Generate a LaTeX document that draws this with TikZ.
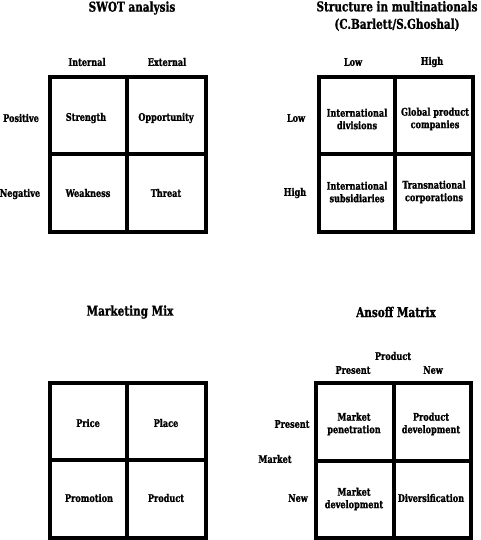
\documentclass[tikz,border=0pt]{standalone}
\usepackage{fontspec}
\setmainfont{DejaVu Serif Condensed}[BoldFont={DejaVu Serif Condensed Bold},BoldFeatures={FakeStretch=0.86,FakeBold=1.2}]
\begin{document}
\begin{tikzpicture}[x=1pt,y=-1pt,
  txt/.style={font=\bfseries\fontsize{10.5}{12.5}\selectfont, align=center, inner sep=0pt},
  ttl/.style={font=\bfseries\fontsize{13.5}{17.5}\selectfont, align=center, inner sep=0pt},
  gridline/.style={line width=4pt, line join=miter, draw=black}]
\useasboundingbox (0,0) rectangle (480,540);
% ---------- SWOT ----------
\node[ttl] (t1) at (132,8) {SWOT analysis};
\node[txt] (c1a) at (87,62) {Internal};
\node[txt] (c1b) at (167,62) {External};
\node[txt] (r1a) at (21,118) {Positive};
\node[txt] (r1b) at (20,194) {Negative};
\draw[gridline] (50,77) rectangle (206,232);
\draw[gridline] (127,77) -- (127,232);
\draw[gridline] (50,154.5) -- (206,154.5);
\node[txt] (s1) at (86,118) {Strength};
\node[txt] (s2) at (166,118) {Opportunity};
\node[txt] (s3) at (88,193) {Weakness};
\node[txt] (s4) at (166,193) {Threat};
% ---------- Structure ----------
\node[ttl] (t2) at (397,16) {Structure in multinationals\\(C.Barlett/S.Ghoshal)};
\node[txt] (c2a) at (353,62) {Low};
\node[txt] (c2b) at (432,62) {High};
\node[txt] (r2a) at (296,118) {Low};
\node[txt] (r2b) at (295,193) {High};
\draw[gridline] (319,77) rectangle (473,232);
\draw[gridline] (395.3,77) -- (395.3,232);
\draw[gridline] (319,154.5) -- (473,154.5);
\node[txt] (m1) at (357,119) {International\\divisions};
\node[txt] (m2) at (435,119) {Global product\\companies};
\node[txt] (m3) at (357,192) {International\\subsidiaries};
\node[txt] (m4) at (434,192) {Transnational\\corporations};
% ---------- Marketing Mix ----------
\node[ttl] (t3) at (130,312) {Marketing Mix};
\draw[gridline] (50,383) rectangle (206,537.5);
\draw[gridline] (127,383) -- (127,537.5);
\draw[gridline] (50,460) -- (206,460);
\node[txt] (p1) at (88,423) {Price};
\node[txt] (p2) at (166,423) {Place};
\node[txt] (p3) at (89,498) {Promotion};
\node[txt] (p4) at (166,498) {Product};
% ---------- Ansoff ----------
\node[ttl] (t4) at (396,312) {Ansoff Matrix};
\node[txt] (a0) at (393,356) {Product};
\node[txt] (ac1) at (353,370) {Present};
\node[txt] (ac2) at (433,370) {New};
\node[txt] (ar1) at (292,424) {Present};
\node[txt] (ar0) at (275,459) {Market};
\node[txt] (ar2) at (298,498) {New};
\draw[gridline] (316,383) rectangle (471,537.5);
\draw[gridline] (393.7,383) -- (393.7,537.5);
\draw[gridline] (316,460.5) -- (471,460.5);
\node[txt] (q1) at (354,424) {Market\\penetration};
\node[txt] (q2) at (431,424) {Product\\development};
\node[txt] (q3) at (354,499) {Market\\development};
\node[txt] (q4) at (431,498) {Diversification};
\end{tikzpicture}
\end{document}
